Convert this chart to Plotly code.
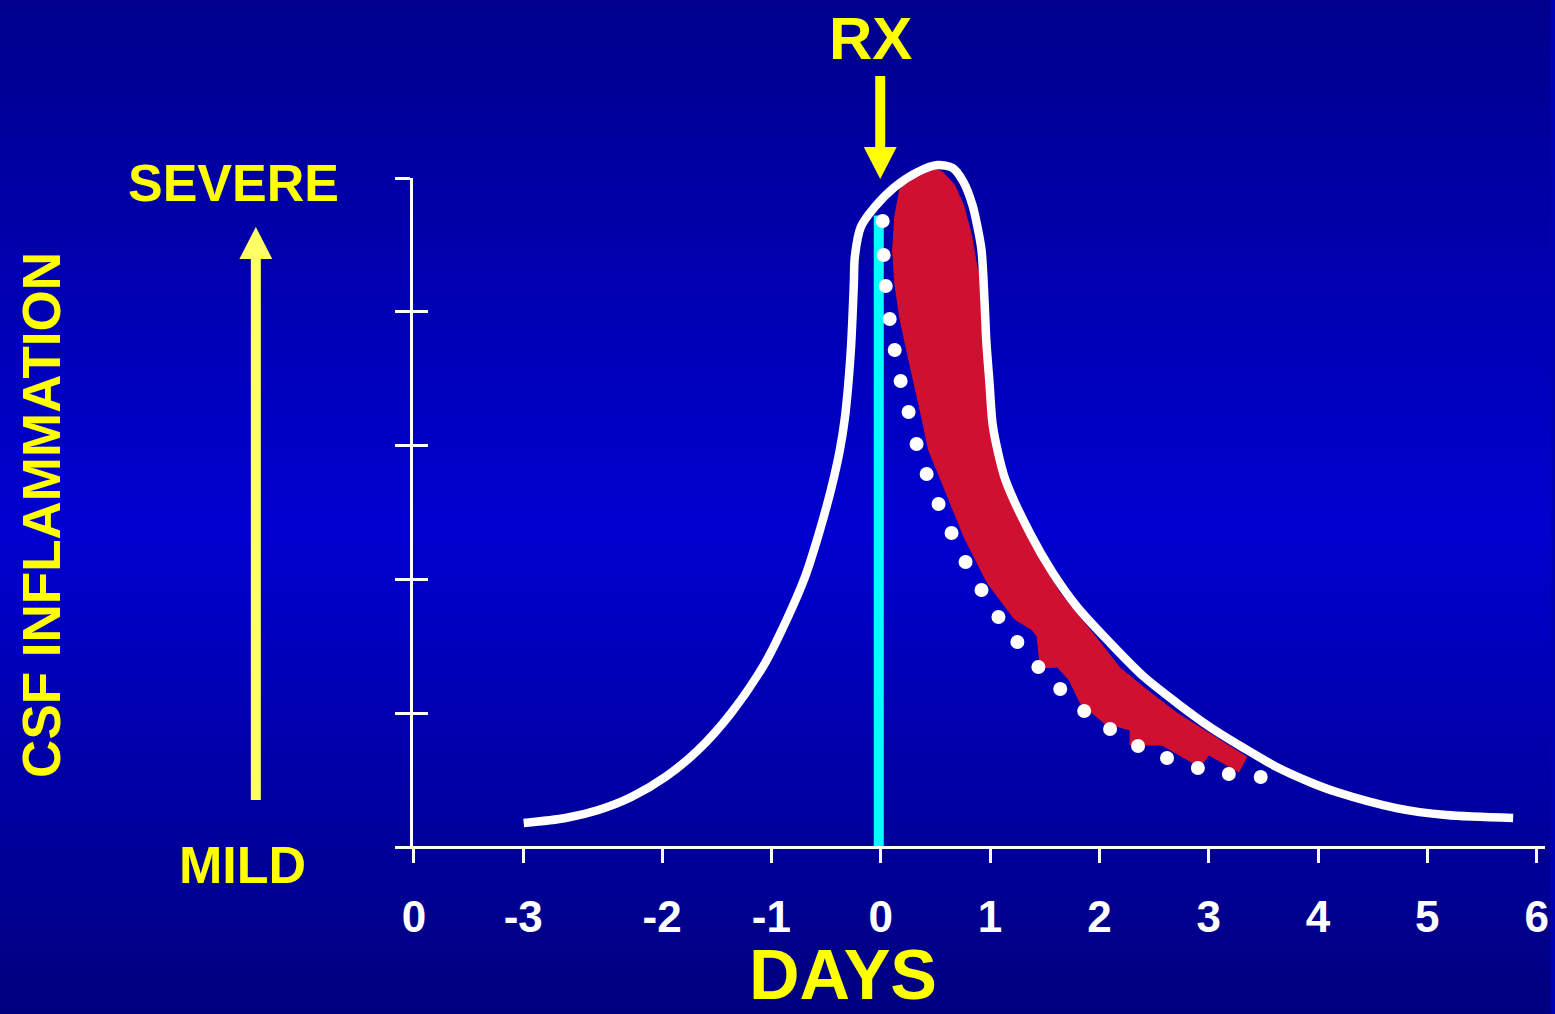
import plotly.graph_objects as go

# ---------------- data ----------------
tick_labels = ["0", "-3", "-2", "-1", "0", "1", "2", "3", "4", "5", "6"]
tick_positions = [-4.27, -3.27, -2, -1, 0, 1, 2, 3, 4, 5, 6]
severity_ticks = [0, 1, 2, 3, 4, 5]

# untreated course (solid white curve)
untreated_day = [-3.266, -2.883, -2.582, -2.281, -1.971, -1.670, -1.369, -1.058, -0.849,
                 -0.693, -0.575, -0.456, -0.374, -0.328, -0.274, -0.246, -0.237, -0.182,
                 -0.055, 0.128, 0.338, 0.520, 0.657, 0.757, 0.839, 0.885, 0.922, 0.949,
                 0.967, 0.995, 1.022, 1.068, 1.141, 1.369, 1.569, 1.797, 2.099, 2.409,
                 2.710, 3.011, 3.321, 3.622, 3.923, 4.170, 4.717, 5.173, 5.785]
untreated_level = [0.179, 0.217, 0.277, 0.374, 0.523, 0.725, 1.001, 1.375, 1.719,
                   2.018, 2.317, 2.668, 2.967, 3.206, 3.707, 4.208, 4.410, 4.634,
                   4.783, 4.933, 5.045, 5.097, 5.075, 4.970, 4.798, 4.634, 4.462, 4.088,
                   3.767, 3.468, 3.169, 2.967, 2.743, 2.339, 2.055, 1.794, 1.525, 1.271,
                   1.076, 0.897, 0.740, 0.598, 0.486, 0.411, 0.291, 0.239, 0.217]

# treated course (white dots)
treated_day = [0.018, 0.027, 0.046, 0.082, 0.128, 0.182, 0.255, 0.328, 0.420, 0.529,
               0.648, 0.776, 0.922, 1.077, 1.250, 1.442, 1.642, 1.861, 2.098, 2.354,
               2.619, 2.901, 3.184, 3.476]
treated_level = [4.679, 4.424, 4.193, 3.946, 3.714, 3.483, 3.251, 3.012, 2.788, 2.564,
                 2.347, 2.130, 1.921, 1.719, 1.532, 1.345, 1.181, 1.016, 0.882, 0.755,
                 0.665, 0.590, 0.546, 0.523]

# red band (outline, closed)
band_day = [0.456, 0.566, 0.675, 0.757, 0.830, 0.885, 0.949, 0.958, 0.976, 1.022,
            1.113, 1.250, 1.432, 1.633, 1.916, 2.190, 2.436, 2.710, 3.029, 3.349,
            3.276, 3.002, 2.920, 2.573, 2.281, 2.281, 2.044, 1.825, 1.724, 1.615,
            1.460, 1.432, 1.387, 1.223, 0.976, 0.766, 0.584, 0.438, 0.374, 0.301,
            0.237, 0.173, 0.128, 0.109, 0.128, 0.173, 0.310, 0.456]
band_level = [5.082, 5.045, 4.948, 4.798, 4.574, 4.312, 4.297, 4.088, 3.490, 3.117,
              2.818, 2.481, 2.182, 1.906, 1.622, 1.338, 1.173, 1.001, 0.837, 0.673,
              0.561, 0.688, 0.598, 0.762, 0.762, 0.874, 0.927, 1.076, 1.248, 1.345,
              1.338, 1.570, 1.622, 1.704, 1.973, 2.309, 2.676, 2.967, 3.214, 3.468,
              3.714, 3.961, 4.215, 4.462, 4.709, 4.910, 5.037, 5.082]

rx_day = -0.018
rx_level = [0, 4.72]

# ---------------- geometry helpers (pixel -> axis units) ----------------
W, H = 1555, 1014
X0, PXD = 883, 109.6
Y0, PYD = 847, 133.8


def dx(px):
    return (px - X0) / PXD


def dy(py):
    return (Y0 - py) / PYD


FONT = "Liberation Sans, Arial, Helvetica, sans-serif"
YELLOW = "#FFFF00"

fig = go.Figure()

fig.add_trace(go.Scatter(x=[rx_day, rx_day], y=rx_level, mode="lines",
                         line=dict(color="#00FFFF", width=10), hoverinfo="skip"))
fig.add_trace(go.Scatter(x=band_day, y=band_level, mode="lines", fill="toself",
                         fillcolor="#D01030", line=dict(color="#D01030", width=1),
                         hoverinfo="skip"))
fig.add_trace(go.Scatter(x=untreated_day, y=untreated_level, mode="lines",
                         line=dict(color="white", width=8.5, shape="spline", smoothing=0.8),
                         hoverinfo="skip"))
fig.add_trace(go.Scatter(x=treated_day, y=treated_level, mode="markers",
                         marker=dict(color="white", size=14, line=dict(width=0)),
                         hoverinfo="skip"))
# anchors for the visible axes
fig.add_trace(go.Scatter(x=[0], y=[0], xaxis="x2", yaxis="y2", mode="markers",
                         marker=dict(opacity=0), hoverinfo="skip"))
fig.add_trace(go.Scatter(x=[0], y=[0], xaxis="x2", yaxis="y3", mode="markers",
                         marker=dict(opacity=0), hoverinfo="skip"))

# background gradient
shapes = []
N = 160
stops = [(0.0, 140), (0.52, 208), (1.0, 126)]


def blue(t):
    for (t0, b0), (t1, b1) in zip(stops[:-1], stops[1:]):
        if t <= t1:
            return b0 + (b1 - b0) * (t - t0) / (t1 - t0)
    return stops[-1][1]


for i in range(N):
    t = (i + 0.5) / N
    b = int(round(blue(t)))
    shapes.append(dict(type="rect", xref="paper", yref="paper", x0=0, x1=1,
                       y0=1 - (i + 1) / N - 0.002, y1=1 - i / N,
                       fillcolor=f"rgb(0,0,{b})", line=dict(width=0), layer="below"))

# RX arrow
shapes.append(dict(type="line", xref="x", yref="y", x0=dx(882.5), x1=dx(882.5),
                   y0=dy(76), y1=dy(149), line=dict(color=YELLOW, width=10)))
shapes.append(dict(type="path", xref="x", yref="y",
                   path=f"M {dx(866)},{dy(147)} L {dx(899)},{dy(147)} L {dx(882.5)},{dy(179)} Z",
                   fillcolor=YELLOW, line=dict(width=0)))
# severity arrow
shapes.append(dict(type="line", xref="x", yref="y", x0=dx(256.5), x1=dx(256.5),
                   y0=dy(800), y1=dy(256), line=dict(color="#FFFF66", width=10)))
shapes.append(dict(type="path", xref="x", yref="y",
                   path=f"M {dx(240)},{dy(259)} L {dx(273)},{dy(259)} L {dx(256.5)},{dy(227)} Z",
                   fillcolor="#FFFF66", line=dict(width=0)))


def label(text, px, py, size, angle=0):
    return dict(text=text, x=dx(px), y=dy(py), xref="x", yref="y", showarrow=False,
                xanchor="center", yanchor="middle", textangle=angle,
                font=dict(family=FONT, size=size, color=YELLOW, weight="bold"))


annotations = [
    label("RX", 873, 38, 60),
    label("SEVERE", 234, 183, 52),
    label("MILD", 243, 865, 52),
    label("CSF INFLAMMATION", 41, 515, 53, -90),
    label("DAYS", 845, 975, 70),
]

fig.update_layout(
    width=W, height=H, margin=dict(l=0, r=0, t=0, b=0, pad=0),
    paper_bgcolor="rgb(0,0,180)", plot_bgcolor="rgba(0,0,0,0)",
    showlegend=False, shapes=shapes, annotations=annotations,
    xaxis=dict(domain=[0, 1], range=[dx(0), dx(W)], visible=False, fixedrange=True),
    yaxis=dict(domain=[0, 1], range=[dy(H), dy(0)], visible=False, fixedrange=True),
    xaxis2=dict(domain=[400 / W, 1549 / W], range=[dx(400), dx(1549)], anchor="free",
                position=(H - 847) / H, showline=True, linecolor="white", linewidth=3,
                ticks="outside", ticklen=14, tickwidth=3, tickcolor="white",
                tickmode="array", tickvals=tick_positions, ticktext=tick_labels,
                tickfont=dict(family=FONT, size=44, color="white", weight="bold"),
                ticklabelstandoff=16, showgrid=False, zeroline=False, fixedrange=True),
    yaxis2=dict(domain=[(H - 847) / H, (H - 178) / H], range=[0, 5], anchor="free",
                position=412 / W, showline=True, linecolor="white", linewidth=3,
                ticks="outside", ticklen=15, tickwidth=3, tickcolor="white",
                tickmode="array", tickvals=severity_ticks, showticklabels=False,
                showgrid=False, zeroline=False, fixedrange=True),
    yaxis3=dict(domain=[(H - 847) / H, (H - 178) / H], range=[0, 5], anchor="free",
                position=412 / W, showline=False,
                ticks="inside", ticklen=16, tickwidth=3, tickcolor="white",
                tickmode="array", tickvals=severity_ticks, showticklabels=False,
                showgrid=False, zeroline=False, fixedrange=True),
)

fig.write_html("out.html", config={"displayModeBar": False},
               post_script="document.body.style.margin='0';document.body.style.overflow='hidden';")
